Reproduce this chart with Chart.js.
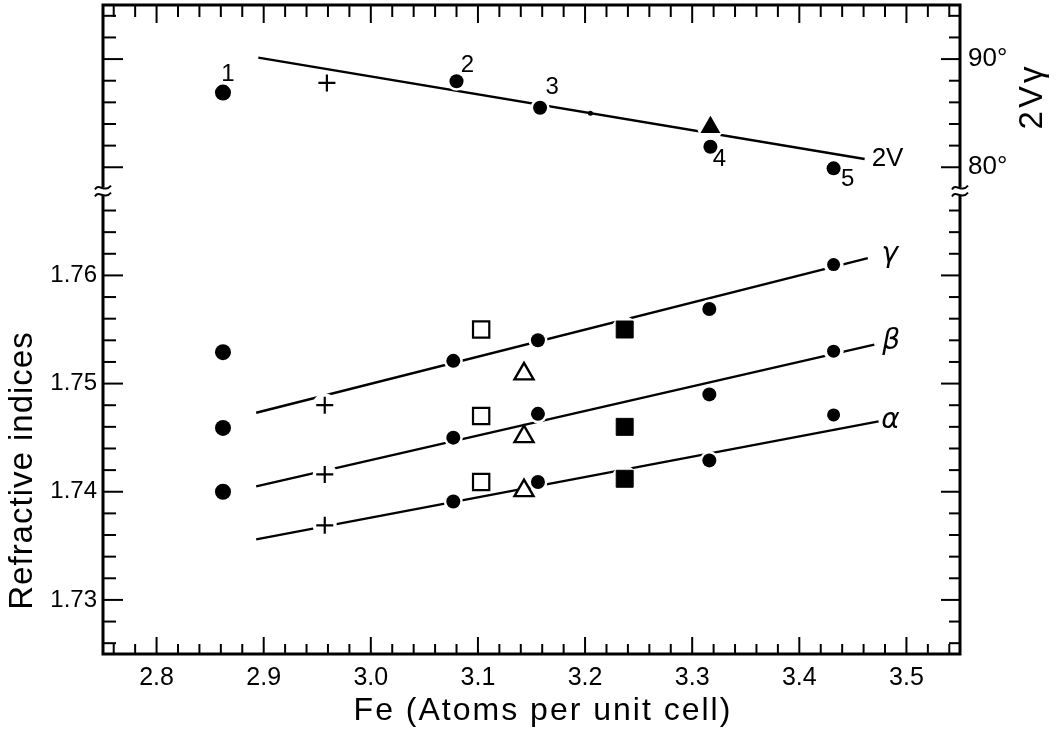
<!DOCTYPE html>
<html>
<head>
<meta charset="utf-8">
<script src="https://cdn.jsdelivr.net/npm/chart.js@4.4.0/dist/chart.umd.min.js"></script>
<style>
  html, body { margin: 0; padding: 0; background: #fff; }
</style>
</head>
<body>
<canvas id="c" width="1058" height="734"></canvas>
<script>
// Fe content of the samples (atoms per unit cell)
const feIdx = [2.862, 2.957, 3.077, 3.103, 3.143, 3.156, 3.237, 3.316, 3.432];
const markIdx = ['bigdot', 'plus', 'dot', 'square', 'triangle', 'dot', 'fsquare', 'dot', 'smalldot'];
const gammaVals = [1.7529, 1.7480, 1.7521, 1.7550, 1.7509, 1.7540, 1.7550, 1.7569, 1.7610];
const betaVals  = [1.7459, 1.7416, 1.7450, 1.7470, 1.7451, 1.7472, 1.7460, 1.7490, 1.7530];
const alphaVals = [1.7400, 1.7369, 1.7391, 1.7409, 1.7401, 1.7409, 1.7412, 1.7429, 1.7471];

// 2V gamma (degrees)
const fe2V = [2.862, 2.959, 3.080, 3.158, 3.205, 3.317, 3.317, 3.432];
const mark2V = ['bigdot', 'plus', 'dot', 'dot', 'tiny', 'ftriangle', 'dot', 'dot'];
const twoVVals = [86.9, 87.8, 87.95, 85.5, 85.0, 83.7, 81.9, 79.9];
const twoVNums = ['1', '', '2', '3', '', '', '4', '5'];

// fitted lines (end points)
const gammaFitX = [2.893, 3.464], gammaFitY = [1.7473, 1.7616];
const betaFitX  = [2.893, 3.470], betaFitY  = [1.7405, 1.7536];
const alphaFitX = [2.893, 3.474], alphaFitY = [1.7356, 1.7465];
const twoVFitX  = [2.895, 3.461], twoVFitY  = [90.13, 80.76];

const xTickLabels = ['2.8', '2.9', '3.0', '3.1', '3.2', '3.3', '3.4', '3.5'];
const yTickLabels = ['1.73', '1.74', '1.75', '1.76'];
const y2TickLabels = ['80', '90'];

// label offsets (px) for the numbered samples
const numOffsets = [[5, -18], [0, 0], [11, -16], [12, -20], [0, 0], [0, 0], [9, 13], [14, 11]];

const FONT = "'Liberation Sans', Arial, sans-serif";
Chart.defaults.font.family = FONT;
Chart.defaults.color = '#000';

function pts(xs, ys) { return xs.map((x, i) => ({x: x, y: ys[i]})); }

function style(m) {
  switch (m) {
    case 'bigdot':   return {ps: 'circle', r: 8, bg: '#000', bw: 0, halo: 0};
    case 'dot':      return {ps: 'circle', r: 7, bg: '#000', bw: 0, halo: 9.5};
    case 'smalldot': return {ps: 'circle', r: 6.5, bg: '#000', bw: 0, halo: 10};
    case 'plus':     return {ps: 'cross', r: 8.5, bg: '#000', bw: 2.2, halo: 12};
    case 'square':   return {ps: 'rect', r: 11.5, bg: '#fff', bw: 2.2, halo: 0};
    case 'fsquare':  return {ps: 'rect', r: 12, bg: '#000', bw: 1, halo: 13};
    case 'triangle': return {ps: 'triangle', r: 11, bg: '#fff', bw: 2.4, halo: 0};
    case 'ftriangle':return {ps: 'triangle', r: 10, bg: '#000', bw: 1.5, halo: 13};
    default:         return {ps: 'circle', r: 2.5, bg: '#000', bw: 0, halo: 0};
  }
}

function markerSet(xs, ys, marks, axis) {
  return {
    type: 'scatter', data: pts(xs, ys), yAxisID: axis, order: 0,
    pointStyle: c => style(marks[c.dataIndex]).ps,
    pointRadius: c => style(marks[c.dataIndex]).r,
    pointBackgroundColor: c => style(marks[c.dataIndex]).bg,
    pointBorderColor: '#000',
    pointBorderWidth: c => style(marks[c.dataIndex]).bw
  };
}
function haloSet(xs, ys, marks, axis) {
  return {
    type: 'scatter', data: pts(xs, ys), yAxisID: axis, order: 1,
    pointStyle: 'circle',
    pointRadius: c => style(marks[c.dataIndex]).halo,
    pointBackgroundColor: '#fff', pointBorderWidth: 0
  };
}
function fitSet(xs, ys, axis) {
  return {
    type: 'line', data: pts(xs, ys), yAxisID: axis, order: 2,
    borderColor: '#000', borderWidth: 2.4, pointRadius: 0, fill: false
  };
}

function near(v, step) { return Math.abs(v / step - Math.round(v / step)) < 1e-6; }

// tick values on a regular step inside [min, max]
function stepTicks(min, max, step) {
  const out = [];
  for (let k = Math.ceil(min / step - 1e-9); k * step <= max + 1e-9; k++) out.push({value: +(k * step).toFixed(6)});
  return out;
}
function noPad(s) { s.paddingTop = 0; s.paddingBottom = 0; s.paddingLeft = 0; s.paddingRight = 0; }

function spacedText(ctx, txt, x, y, spacing) {
  if ('letterSpacing' in ctx) {
    ctx.letterSpacing = spacing + 'px';
    ctx.fillText(txt, x + spacing / 2, y);
    ctx.letterSpacing = '0px';
  } else {
    ctx.fillText(txt, x, y);
  }
}

const framePlugin = {
  id: 'frame',
  afterDraw(chart) {
    const {ctx, chartArea: a, scales} = chart;
    const x = scales.x, y = scales.y, y2 = scales.y2;
    const seg = (x1, y1, x2, y2_) => { ctx.beginPath(); ctx.moveTo(x1, y1); ctx.lineTo(x2, y2_); ctx.stroke(); };
    ctx.save();
    ctx.strokeStyle = '#000';
    ctx.lineWidth = 2;
    // x ticks, bottom and top, pointing inward
    x.ticks.forEach(t => {
      const major = near(t.value, 0.1);
      const px = x.getPixelForValue(t.value);
      seg(px, a.bottom, px, a.bottom - (major ? 17 : 10));
      seg(px, a.top, px, a.top + (major ? 18 : 12));
    });
    // refractive index ticks (lower part)
    y.ticks.forEach(t => {
      if (t.value > 1.7665) return;
      const major = near(t.value, 0.01);
      const py = y.getPixelForValue(t.value);
      seg(a.left, py, a.left + (major ? 20 : 13), py);
      seg(a.right, py, a.right - (major ? 19 : 11), py);
    });
    // 2V ticks (upper part)
    y2.ticks.forEach(t => {
      if (t.value < 79) return;
      const major = near(t.value, 10);
      const py = y2.getPixelForValue(t.value);
      seg(a.left, py, a.left + (major ? 20 : 13), py);
      seg(a.right, py, a.right - (major ? 19 : 11), py);
    });
    // frame
    ctx.lineWidth = 3;
    ctx.strokeRect(a.left, a.top, a.right - a.left, a.bottom - a.top);

    // axis breaks
    const brk = y.getPixelForValue(1.7678);
    [a.left, a.right].forEach(ax => {
      ctx.fillStyle = '#fff';
      ctx.fillRect(ax - 3, brk - 4, 6, 8);
      ctx.lineWidth = 2;
      [-3.5, 3.5].forEach(dy => {
        const yy = brk + dy;
        ctx.beginPath();
        ctx.moveTo(ax - 8, yy + 2);
        ctx.bezierCurveTo(ax - 4, yy - 5, ax + 1, yy + 6, ax + 8, yy - 2);
        ctx.stroke();
      });
    });

    // sample numbers on the 2V points
    const meta = chart.getDatasetMeta(chart.data.datasets.findIndex(d => d.id === 'm2V'));
    ctx.fillStyle = '#000';
    ctx.textAlign = 'center';
    ctx.textBaseline = 'middle';
    ctx.font = '24px ' + FONT;
    twoVNums.forEach((s, i) => {
      if (!s) return;
      const el = meta.data[i];
      ctx.fillText(s, el.x + numOffsets[i][0], el.y + numOffsets[i][1]);
    });

    // curve labels at the line ends
    const lineEnd = id => {
      const m = chart.getDatasetMeta(chart.data.datasets.findIndex(d => d.id === id));
      return m.data[m.data.length - 1];
    };
    ctx.font = 'italic 28px ' + "'DejaVu Sans', sans-serif";
    let e = lineEnd('fitG'); ctx.fillText('\u03B3', e.x + 22, e.y - 3);
    e = lineEnd('fitB'); ctx.fillText('\u03B2', e.x + 17, e.y - 3);
    e = lineEnd('fitA'); ctx.fillText('\u03B1', e.x + 12, e.y - 1);
    ctx.font = '26px ' + FONT;
    ctx.textAlign = 'left';
    e = lineEnd('fit2V'); ctx.fillText('2V', e.x + 7, e.y);

    // axis titles
    ctx.font = '32px ' + FONT;
    ctx.textAlign = 'center';
    spacedText(ctx, 'Fe (Atoms per unit cell)', 542, 711, 2);
    ctx.save();
    ctx.translate(23, 471);
    ctx.rotate(-Math.PI / 2);
    ctx.font = '33px ' + FONT;
    spacedText(ctx, 'Refractive indices', 0, 0, 1);
    ctx.restore();
    ctx.save();
    ctx.translate(1033, 98);
    ctx.rotate(-Math.PI / 2);
    ctx.font = '33px ' + FONT;
    spacedText(ctx, '2V\u03B3', 0, 0, 3);
    ctx.restore();
    ctx.restore();
  }
};

new Chart(document.getElementById('c'), {
  type: 'scatter',
  data: {
    datasets: [
      Object.assign(fitSet(gammaFitX, gammaFitY, 'y'), {id: 'fitG'}),
      Object.assign(fitSet(betaFitX, betaFitY, 'y'), {id: 'fitB'}),
      Object.assign(fitSet(alphaFitX, alphaFitY, 'y'), {id: 'fitA'}),
      Object.assign(fitSet(twoVFitX, twoVFitY, 'y2'), {id: 'fit2V'}),
      haloSet(feIdx, gammaVals, markIdx, 'y'),
      haloSet(feIdx, betaVals, markIdx, 'y'),
      haloSet(feIdx, alphaVals, markIdx, 'y'),
      haloSet(fe2V, twoVVals, mark2V, 'y2'),
      markerSet(feIdx, gammaVals, markIdx, 'y'),
      markerSet(feIdx, betaVals, markIdx, 'y'),
      markerSet(feIdx, alphaVals, markIdx, 'y'),
      Object.assign(markerSet(fe2V, twoVVals, mark2V, 'y2'), {id: 'm2V'})
    ]
  },
  options: {
    responsive: false,
    animation: false,
    layout: {autoPadding: false, padding: {top: 5, left: 0, right: 0, bottom: 0}},
    plugins: {legend: {display: false}, tooltip: {enabled: false}},
    scales: {
      x: {
        type: 'linear', min: 2.75, max: 3.55,
        grid: {display: false, drawTicks: false}, border: {display: false},
        ticks: {
          autoSkip: false, maxRotation: 0, padding: 9,
          font: {size: 25},
          callback: v => { const s = v.toFixed(1); return near(v, 0.1) && xTickLabels.includes(s) ? s : ''; }
        },
        afterBuildTicks: s => { s.ticks = stepTicks(2.76, 3.54, 0.02); },
        afterFit: s => { s.height = 80; noPad(s); }
      },
      y: {
        type: 'linear', position: 'left', min: 1.725, max: 1.785,
        grid: {display: false, drawTicks: false}, border: {display: false},
        ticks: {
          autoSkip: false, padding: 6,
          font: {size: 24},
          callback: v => { const s = v.toFixed(2); return near(v, 0.01) && yTickLabels.includes(s) ? s : ''; }
        },
        afterBuildTicks: s => { s.ticks = stepTicks(1.726, 1.766, 0.002); },
        afterFit: s => { s.width = 103; noPad(s); }
      },
      y2: {
        type: 'linear', position: 'right', min: 35, max: 95,
        grid: {display: false, drawTicks: false}, border: {display: false},
        ticks: {
          autoSkip: false, padding: 8,
          font: {size: 26},
          callback: v => { const s = String(Math.round(v)); return near(v, 10) && y2TickLabels.includes(s) ? s + '\u00B0' : ''; }
        },
        afterBuildTicks: s => { s.ticks = stepTicks(80, 94, 2); },
        afterFit: s => { s.width = 98; noPad(s); }
      }
    }
  },
  plugins: [framePlugin]
});
</script>
</body>
</html>
